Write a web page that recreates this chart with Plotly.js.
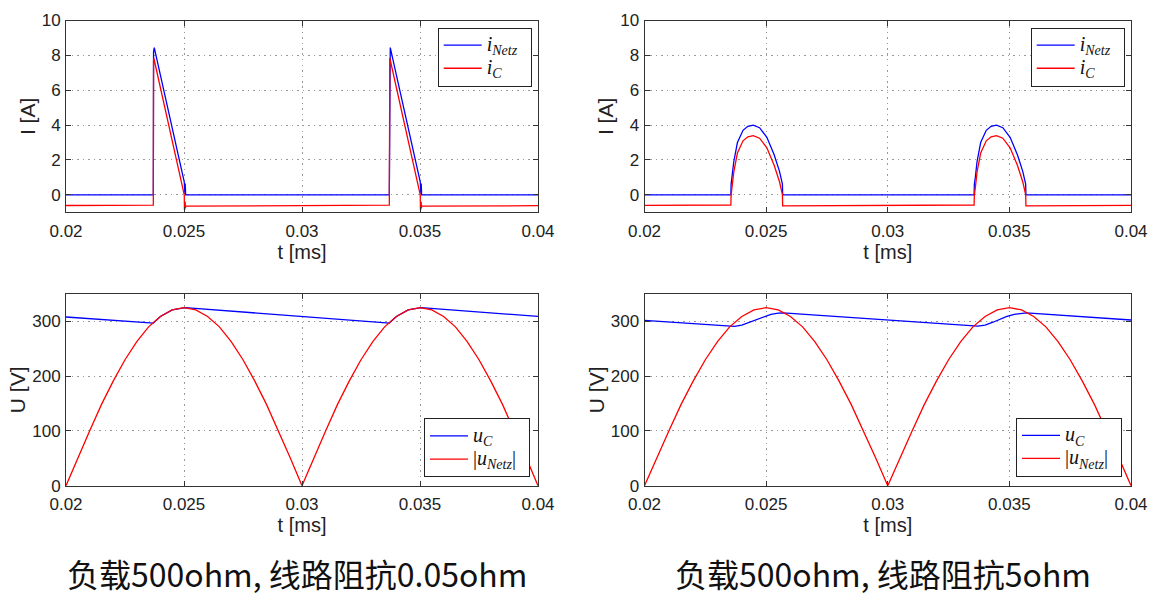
<!DOCTYPE html>
<html>
<head>
<meta charset="utf-8">
<script src="https://cdn.plot.ly/plotly-3.0.1.min.js"></script>
<style>html,body{margin:0;padding:0;background:#fff;}#chart{width:1154px;height:605px;}</style>
</head>
<body>
<div id="chart"></div>
<script>
// ---------- data ----------
// top-left: line impedance 0.05 ohm, currents [A]
var tNetzA = [0.02, 0.0237, 0.02371, 0.02374, 0.02501, 0.02502, 0.02503, 0.02504, 0.02505, 0.02506, 0.02507,
              0.0337, 0.03371, 0.03374, 0.03501, 0.03502, 0.03503, 0.03504, 0.03505, 0.03506, 0.03507, 0.04];
var iNetzA = [0, 0, 8.2, 8.45, 0.75, 0.1, 0.72, 0.05, 0.65, 0.02, 0,
              0, 8.2, 8.45, 0.75, 0.1, 0.72, 0.05, 0.65, 0.02, 0, 0];
var tCA = [0.02, 0.0237, 0.02371, 0.02372, 0.02501, 0.02502, 0.02503, 0.02504, 0.02505, 0.02506, 0.02507,
           0.0337, 0.03371, 0.03372, 0.03501, 0.03502, 0.03503, 0.03504, 0.03505, 0.03506, 0.03507, 0.04];
var iCA = [-0.61, -0.59, 7.7, 7.85, 0.0, -0.85, -0.2, -0.8, -0.4, -0.75, -0.65,
           -0.59, 7.7, 7.85, 0.0, -0.85, -0.2, -0.8, -0.4, -0.75, -0.65, -0.62];

// top-right: line impedance 5 ohm, currents [A]
var tB = [0.02, 0.02355, 0.02356, 0.0236, 0.02367, 0.02382, 0.02405, 0.02425, 0.02447, 0.02473, 0.02503, 0.02533, 0.02555, 0.02567, 0.02568,
          0.03355, 0.03356, 0.0336, 0.03367, 0.03382, 0.03405, 0.03425, 0.03447, 0.03473, 0.03503, 0.03533, 0.03555, 0.03567, 0.03568, 0.04];
var iNetzB = [0, 0, 0.6, 1.0, 1.9, 3.0, 3.7, 3.93, 4.0, 3.85, 3.3, 2.3, 1.35, 0.62, 0,
              0, 0.6, 1.0, 1.9, 3.0, 3.7, 3.93, 4.0, 3.85, 3.3, 2.3, 1.35, 0.62, 0, 0];
var iCB = [-0.6, -0.58, 0, 0.4, 1.3, 2.4, 3.1, 3.33, 3.4, 3.25, 2.7, 1.7, 0.75, 0.02, -0.63,
           -0.58, 0, 0.4, 1.3, 2.4, 3.1, 3.33, 3.4, 3.25, 2.7, 1.7, 0.75, 0.02, -0.63, -0.6];

// bottom: voltages [V]
var tU = [0.02, 0.0205, 0.021, 0.0215, 0.022, 0.0225, 0.023, 0.0235, 0.024, 0.0245, 0.025,
          0.0255, 0.026, 0.0265, 0.027, 0.0275, 0.028, 0.0285, 0.029, 0.0295, 0.03,
          0.0305, 0.031, 0.0315, 0.032, 0.0325, 0.033, 0.0335, 0.034, 0.0345, 0.035,
          0.0355, 0.036, 0.0365, 0.037, 0.0375, 0.038, 0.0385, 0.039, 0.0395, 0.04];
var uNetzAbs = [0, 51, 100, 148, 191, 230, 263, 290, 309, 321, 325,
                321, 309, 290, 263, 230, 191, 148, 100, 51, 0,
                51, 100, 148, 191, 230, 263, 290, 309, 321, 325,
                321, 309, 290, 263, 230, 191, 148, 100, 51, 0];
var tUcA = [0.02, 0.0237, 0.024, 0.0245, 0.02505, 0.0337, 0.034, 0.0345, 0.03505, 0.04];
var uCA  = [308, 297, 309, 321, 325, 297, 309, 321, 325, 309];
var tUcB = [0.02, 0.0237, 0.024, 0.0243, 0.0246, 0.0249, 0.0252, 0.0255, 0.0257,
            0.0337, 0.034, 0.0343, 0.0346, 0.0349, 0.0352, 0.0355, 0.0357, 0.04];
var uCB  = [302, 291, 293, 298, 304, 309, 313, 315, 315.5,
            291.5, 293, 298, 304, 309, 313, 315, 315.5, 302.5];

var xTicks = [0.02, 0.025, 0.03, 0.035, 0.04];
var xTickText = ['0.02', '0.025', '0.03', '0.035', '0.04'];
var iTicks = [0, 2, 4, 6, 8, 10];
var uTicks = [0, 100, 200, 300];
var captions = ['负载500ohm, 线路阻抗0.05ohm', '负载500ohm, 线路阻抗5ohm'];
function big(s) { return '<span style="font-size:20px">' + s + '</span>&nbsp;&nbsp;'; }
var names = {
  iNetz: big('<i>i</i><sub><i>Netz</i></sub>'),
  iC: big('<i>i</i><sub><i>C</i></sub>'),
  uC: big('<i>u</i><sub><i>C</i></sub>'),
  uNetz: big('|<i>u</i><sub><i>Netz</i></sub>|')
};

// ---------- styling ----------
var BLUE = '#0000ff', RED = '#ff0000';
var LW = 1.3;
var tickFont = {family: 'Liberation Sans Narrow, Liberation Sans, Arial, sans-serif', size: 17, color: '#222'};
var xTitleFont = {family: 'Liberation Sans Narrow, Liberation Sans, Arial, sans-serif', size: 20, color: '#222'};
var yTitleFont = {family: 'Liberation Sans, Arial, sans-serif', size: 21, color: '#222'};
var legFont = {family: 'Liberation Serif, DejaVu Serif, serif', size: 15.5, color: '#111'};

function tr(x, y, name, color, xa, ya, leg) {
  return {x: x, y: y, name: name, type: 'scatter', mode: 'lines',
          line: {color: color, width: LW}, xaxis: xa, yaxis: ya, legend: leg};
}

var data = [
  tr(tNetzA, iNetzA, names.iNetz, BLUE, 'x', 'y', 'legend'),
  tr(tCA, iCA, names.iC, RED, 'x', 'y', 'legend'),
  tr(tB, iNetzB, names.iNetz, BLUE, 'x2', 'y2', 'legend2'),
  tr(tB, iCB, names.iC, RED, 'x2', 'y2', 'legend2'),
  tr(tUcA, uCA, names.uC, BLUE, 'x3', 'y3', 'legend3'),
  tr(tU, uNetzAbs, names.uNetz, RED, 'x3', 'y3', 'legend3'),
  tr(tUcB, uCB, names.uC, BLUE, 'x4', 'y4', 'legend4'),
  tr(tU, uNetzAbs, names.uNetz, RED, 'x4', 'y4', 'legend4')
];

var W = 1154, H = 605;
var colL = [66 / W, 538 / W], colR = [644.5 / W, 1131 / W];
var rowT = [1 - 212.3 / H, 1 - 20.5 / H], rowB = [1 - 485.7 / H, 1 - 294 / H];

function axisBase() {
  return {
    showline: true, linecolor: '#333', linewidth: 1, mirror: 'ticks',
    ticks: 'inside', ticklen: 5, tickcolor: '#333', tickwidth: 1,
    showgrid: true, gridcolor: '#999', griddash: '1.5px,4px', gridwidth: 1,
    zeroline: false, tickfont: tickFont, fixedrange: true
  };
}
function xAx(domain, anchor) {
  var a = axisBase();
  a.domain = domain; a.anchor = anchor; a.range = [0.02, 0.04];
  a.tickmode = 'array'; a.tickvals = xTicks; a.ticktext = xTickText;
  a.ticklabelstandoff = 3;
  a.title = {text: 't [ms]', font: xTitleFont, standoff: 2};
  return a;
}
function yAx(domain, anchor, range, ticks, title) {
  var a = axisBase();
  a.domain = domain; a.anchor = anchor; a.range = range;
  a.tickmode = 'array'; a.tickvals = ticks;
  a.ticklabelstandoff = 1;
  a.title = {text: title, font: yTitleFont, standoff: 0};
  return a;
}
function legend(xr, y, yanchor) {
  return {x: xr, y: y, xanchor: 'right', yanchor: yanchor, xref: 'paper', yref: 'paper',
          bgcolor: '#fff', bordercolor: '#222', borderwidth: 1, font: legFont,
          tracegroupgap: 0, itemwidth: 38};
}

var layout = {
  width: W, height: H, autosize: false,
  margin: {l: 0, r: 0, t: 0, b: 0},
  paper_bgcolor: '#fff', plot_bgcolor: '#fff',
  xaxis: xAx(colL, 'y'),
  yaxis: yAx(rowT, 'x', [-1, 10], iTicks, 'I [A]'),
  xaxis2: xAx(colR, 'y2'),
  yaxis2: yAx(rowT, 'x2', [-1, 10], iTicks, 'I [A]'),
  xaxis3: xAx(colL, 'y3'),
  yaxis3: yAx(rowB, 'x3', [0, 350], uTicks, 'U [V]'),
  xaxis4: xAx(colR, 'y4'),
  yaxis4: yAx(rowB, 'x4', [0, 350], uTicks, 'U [V]'),
  legend: legend(531.7 / W, 1 - 27.5 / H, 'top'),
  legend2: legend(1124.7 / W, 1 - 27.5 / H, 'top'),
  legend3: legend(530 / W, 1 - 477.3 / H, 'bottom'),
  legend4: legend(1122 / W, 1 - 476.7 / H, 'bottom'),
  annotations: [
    {text: captions[0], x: 296.5 / W, y: 1 - 573 / H, xref: 'paper', yref: 'paper',
     xanchor: 'center', yanchor: 'middle', showarrow: false,
     font: {family: 'Noto Sans CJK SC, sans-serif', size: 32, color: '#111'}},
    {text: captions[1], x: 882.5 / W, y: 1 - 573 / H, xref: 'paper', yref: 'paper',
     xanchor: 'center', yanchor: 'middle', showarrow: false,
     font: {family: 'Noto Sans CJK SC, sans-serif', size: 32, color: '#111'}}
  ],
  showlegend: true
};

Plotly.newPlot('chart', data, layout, {staticPlot: true, displayModeBar: false});
</script>
</body>
</html>
